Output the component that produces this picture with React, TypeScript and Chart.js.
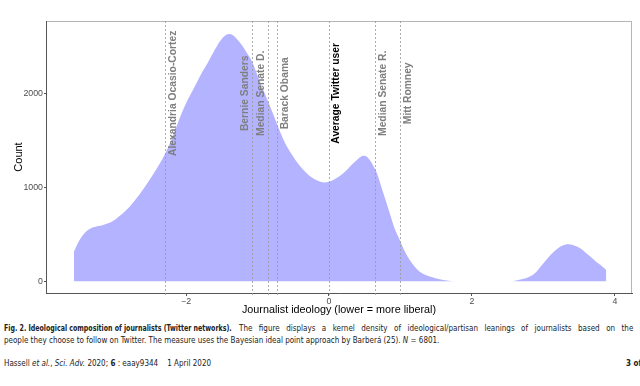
import React, { useEffect, useRef } from 'react';
import { Chart, registerables } from 'chart.js';

Chart.register(...registerables);

// ---- data ----
const densityX = [
  -3.57, -3.49, -3.39, -3.3, -3.16, -3.04, -2.93, -2.79, -2.65, -2.51, -2.37, -2.27, -2.18, -2.09, -2.0,
  -1.9, -1.8, -1.7, -1.6, -1.52, -1.46, -1.4, -1.34, -1.28, -1.22, -1.15, -1.08, -1.0, -0.9, -0.8,
  -0.71, -0.62, -0.52, -0.42, -0.34, -0.27, -0.2, -0.13, -0.06, 0.0, 0.06, 0.13, 0.2, 0.27, 0.34,
  0.41, 0.48, 0.53, 0.57, 0.62, 0.67, 0.76, 0.85, 0.92, 0.99, 1.06, 1.13, 1.2, 1.27, 1.36,
  1.46, 1.55, 1.65, 1.75, 2.55, 2.65, 2.74, 2.82, 2.9, 2.96, 3.03, 3.1, 3.17, 3.24, 3.3,
  3.35, 3.42, 3.52, 3.6, 3.66, 3.73, 3.8, 3.88,
];
const densityY = [
  315, 439, 535, 574, 600, 634, 695, 794, 925, 1080, 1250, 1395, 1555, 1735, 1895,
  2040, 2190, 2320, 2460, 2560, 2610, 2630, 2615, 2570, 2515, 2430, 2340, 2190, 2000, 1815,
  1640, 1480, 1350, 1240, 1170, 1120, 1085, 1062, 1050, 1058, 1078, 1110, 1150, 1200, 1255,
  1305, 1335, 1325, 1290, 1230, 1150, 940, 725, 560, 440, 320, 227, 155, 102, 65,
  40, 22, 8, 0, 0, 14, 30, 55, 100, 155, 220, 280, 330, 370, 390,
  394, 385, 350, 300, 262, 215, 173, 120,
];

const refNames = [
  'Alexandria Ocasio-Cortez',
  'Bernie Sanders',
  'Median Senate D.',
  'Barack Obama',
  'Average Twitter user',
  'Median Senate R.',
  'Mitt Romney',
];
const refValues = [-2.29, -1.074, -0.85, -0.724, 0, 0.65, 1.0];
const refLabelSide = [1, -1, -1, 1, 1, 1, 1];
const refHighlighted = [false, false, false, false, true, false, false];
const refLabelAt = 2000;

const xTicks = [-2, 0, 2, 4];
const yTicks = [0, 1000, 2000];
const xTitle = 'Journalist ideology (lower = more liberal)';
const yTitle = 'Count';

const SANS = '"Liberation Sans", Arial, sans-serif';

const overlayPlugin = {
  id: 'overlay',
  beforeDraw(chart: any) {
    const { ctx, chartArea } = chart;
    ctx.save();
    ctx.strokeStyle = '#b5b5b5';
    ctx.lineWidth = 1;
    ctx.strokeRect(chartArea.left + 0.5, chartArea.top + 0.5, chartArea.right - chartArea.left - 1, chartArea.bottom - chartArea.top);
    ctx.restore();
  },
  afterDatasetsDraw(chart: any) {
    const { ctx, chartArea } = chart;
    const x = chart.scales.x;
    const y = chart.scales.y;
    ctx.save();
    ctx.strokeStyle = '#999999';
    ctx.lineWidth = 0.8;
    ctx.setLineDash([2, 2]);
    refValues.forEach((v) => {
      const px = Math.round(x.getPixelForValue(v)) + 0.5;
      ctx.beginPath();
      ctx.moveTo(px, chartArea.top);
      ctx.lineTo(px, chartArea.bottom + 2);
      ctx.stroke();
    });
    ctx.setLineDash([]);
    const cy = y.getPixelForValue(refLabelAt);
    refNames.forEach((n, i) => {
      const px = x.getPixelForValue(refValues[i]) + refLabelSide[i] * 7.5;
      ctx.save();
      ctx.translate(px, cy);
      ctx.rotate(-Math.PI / 2);
      ctx.font = 'bold 10.3px ' + SANS;
      ctx.fillStyle = refHighlighted[i] ? '#000000' : '#7f7f7f';
      ctx.textAlign = 'center';
      ctx.textBaseline = 'middle';
      ctx.fillText(n, 0, 0);
      ctx.restore();
    });
    // axis titles
    ctx.fillStyle = '#000000';
    ctx.font = '10.8px ' + SANS;
    ctx.textAlign = 'center';
    ctx.textBaseline = 'middle';
    ctx.fillText(xTitle, (chartArea.left + chartArea.right) / 2, chartArea.bottom + 17);
    ctx.save();
    ctx.translate(19, (chartArea.top + chartArea.bottom) / 2);
    ctx.rotate(-Math.PI / 2);
    ctx.font = '11px ' + SANS;
    ctx.fillText(yTitle, 0, 0);
    ctx.restore();
    ctx.restore();
  },
};

function DensityChart() {
  const ref = useRef<HTMLCanvasElement | null>(null);
  useEffect(() => {
    if (!ref.current) return;
    const chart = new Chart(ref.current, {
      type: 'line',
      data: {
        datasets: [
          {
            data: densityX.map((v, i) => ({ x: v, y: densityY[i] })),
            fill: 'origin',
            backgroundColor: 'rgb(179,179,255)',
            borderWidth: 0,
            borderColor: 'rgba(0,0,0,0)',
            pointRadius: 0,
            cubicInterpolationMode: 'monotone',
          },
        ],
      },
      options: {
        animation: false,
        responsive: false,
        maintainAspectRatio: false,
        layout: { padding: { left: 0, right: 8, top: 21, bottom: 0 } },
        plugins: { legend: { display: false }, tooltip: { enabled: false } },
        scales: {
          x: {
            type: 'linear',
            min: -3.96,
            max: 4.24,
            afterBuildTicks: (s: any) => {
              s.ticks = xTicks.map((v) => ({ value: v }));
            },
            afterFit: (s: any) => {
              s.height = 25;
            },
            grid: { drawOnChartArea: false, tickLength: 3, color: '#555555' },
            border: { display: true, color: '#555555', width: 1 },
            ticks: {
              padding: 0,
              color: '#4d4d4d',
              font: { size: 8.8, family: SANS },
              maxRotation: 0,
              callback: (v: any) => String(v).replace('-', '\u2212'),
            },
          },
          y: {
            type: 'linear',
            min: -124,
            max: 2769,
            afterBuildTicks: (s: any) => {
              s.ticks = yTicks.map((v) => ({ value: v }));
            },
            afterFit: (s: any) => {
              s.width = 46;
            },
            grid: { drawOnChartArea: false, tickLength: 2, color: '#555555' },
            border: { display: true, color: '#555555', width: 1 },
            ticks: {
              padding: 1,
              color: '#4d4d4d',
              font: { size: 8.8, family: SANS },
              callback: (v: any) => String(v),
            },
          },
        },
      },
      plugins: [overlayPlugin],
    } as any);
    return () => chart.destroy();
  }, []);
  return <canvas ref={ref} width={640} height={318} style={{ display: 'block', width: 640, height: 318 }} />;
}

const capFont = '"DejaVu Sans Condensed", "Liberation Sans", sans-serif';
const capBase: React.CSSProperties = {
  position: 'absolute',
  whiteSpace: 'nowrap',
  fontFamily: capFont,
  fontSize: 9.5,
  lineHeight: '12px',
  color: '#222',
  transformOrigin: '0 0',
};

export default function App() {
  return (
    <div style={{ position: 'absolute', left: 0, top: 0, width: 640, height: 386, overflow: 'hidden', background: '#fff' }}>
      <DensityChart />
      <div style={{ ...capBase, left: 4, top: 322, fontWeight: 'bold', transform: 'scaleX(0.735)' }}>
        Fig. 2. Ideological composition of journalists (Twitter networks).
      </div>
      <div style={{ ...capBase, left: 239, top: 322, wordSpacing: 5, transform: 'scaleX(0.84)' }}>
        The figure displays a kernel density of ideological/partisan leanings of journalists based on the
      </div>
      <div style={{ ...capBase, left: 4, top: 334, transform: 'scaleX(0.84)' }}>
        people they choose to follow on Twitter. The measure uses the Bayesian ideal point approach by Barberá (25). <i>N</i> = 6801.
      </div>
      <div style={{ ...capBase, left: 4, top: 357, transform: 'scaleX(0.84)' }}>
        Hassell <i>et al.</i>, <i>Sci. Adv.</i> 2020; <b>6</b> : eaay9344&nbsp;&nbsp;&nbsp;&nbsp;1 April 2020
      </div>
      <div style={{ ...capBase, left: 626, top: 357, fontWeight: 'bold', transform: 'scaleX(0.84)' }}>
        3 of 8
      </div>
    </div>
  );
}
